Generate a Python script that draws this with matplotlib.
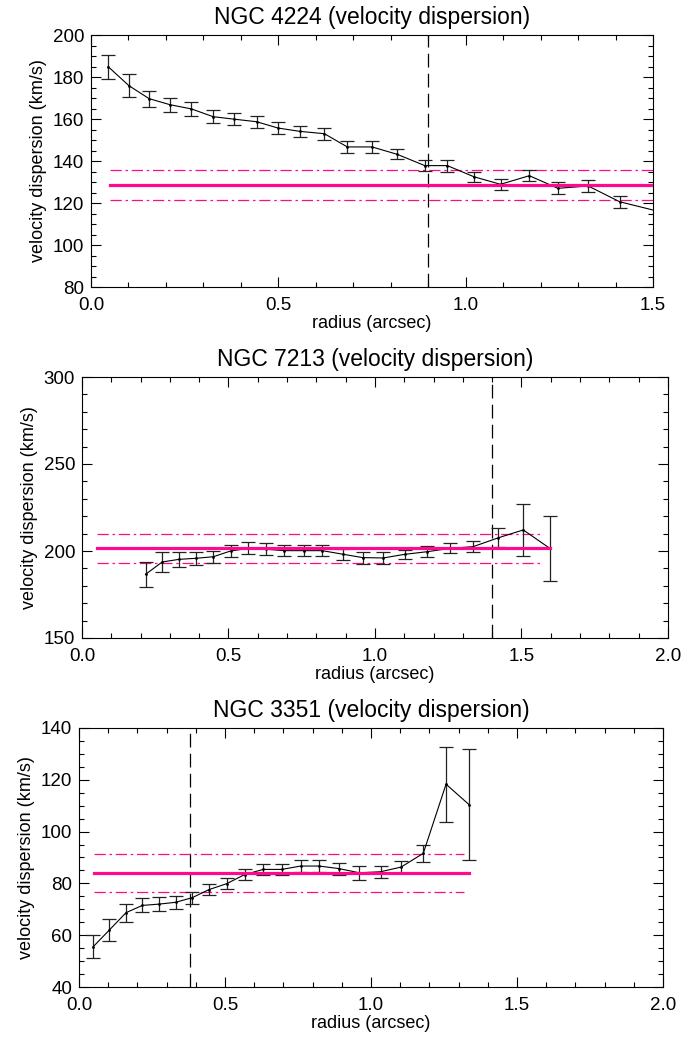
import matplotlib
matplotlib.use("Agg")
import matplotlib.pyplot as plt
from matplotlib.ticker import MultipleLocator

plt.rcParams['font.family'] = ['Liberation Sans', 'DejaVu Sans']

PINK = '#ff0a8c'

# NGC 4224
r_4224 = [0.046, 0.101, 0.155, 0.211, 0.268, 0.326, 0.383, 0.442, 0.499, 0.558,
          0.623, 0.684, 0.750, 0.817, 0.891, 0.951, 1.022, 1.093, 1.170, 1.246,
          1.327, 1.411, 1.560]
s_4224 = [184.9, 175.9, 169.7, 166.8, 164.8, 161.1, 159.9, 158.7, 155.7, 154.1,
          153.0, 146.7, 146.7, 143.2, 137.8, 137.8, 132.5, 128.9, 133.0, 127.0,
          128.1, 120.6, 114.0]
e_4224 = [5.8, 5.3, 3.8, 3.3, 3.2, 3.0, 2.9, 2.9, 2.8, 2.6,
          2.9, 2.9, 2.9, 2.4, 2.5, 2.8, 2.4, 2.6, 2.7, 2.8,
          2.8, 2.8, 2.8]
mean_4224, sig_4224 = 128.6, 7.0
rcut_4224 = 0.9

# NGC 7213
r_7213 = [0.217, 0.274, 0.331, 0.388, 0.448, 0.507, 0.568, 0.628, 0.690, 0.757,
          0.820, 0.892, 0.958, 1.028, 1.102, 1.178, 1.256, 1.335, 1.421, 1.506,
          1.597]
s_7213 = [186.6, 193.7, 195.2, 195.8, 196.7, 200.0, 201.5, 201.0, 200.2, 200.2,
          200.2, 198.1, 196.2, 196.0, 198.1, 199.6, 201.5, 202.5, 207.6, 212.1,
          201.5]
e_7213 = [7.1, 5.6, 4.5, 3.6, 3.5, 3.2, 3.5, 3.4, 3.2, 3.2,
          3.2, 3.0, 3.4, 3.4, 2.7, 3.0, 2.9, 3.3, 5.5, 14.7,
          18.5]
mean_7213, sig_7213 = 201.5, 8.2
rcut_7213 = 1.4

# NGC 3351
r_3351 = [0.049, 0.104, 0.161, 0.217, 0.274, 0.331, 0.388, 0.445, 0.506, 0.567,
          0.631, 0.694, 0.759, 0.823, 0.891, 0.960, 1.033, 1.103, 1.179, 1.257,
          1.337]
s_3351 = [55.6, 62.0, 68.7, 71.5, 72.0, 72.7, 74.5, 77.6, 79.9, 83.4,
          85.4, 85.4, 86.7, 86.7, 85.7, 84.1, 84.5, 86.3, 91.6, 118.3,
          110.3]
e_3351 = [4.5, 4.2, 3.5, 2.7, 2.7, 2.5, 2.3, 2.1, 2.1, 2.1,
          2.2, 2.2, 2.2, 2.2, 2.3, 2.6, 2.4, 2.3, 3.2, 14.5,
          21.4]
mean_3351, sig_3351 = 84.0, 7.2
rcut_3351 = 0.38

W, H = 683, 1037
fig = plt.figure(figsize=(W / 100, H / 100), dpi=100)


def make_axes(l, r, t, b):
    return fig.add_axes([l / W, 1 - b / H, (r - l) / W, (b - t) / H])


# title, data, mean band, cut radius, axes box (px), xlim, ylim, y ticks, band end
panels = [
    ("NGC 4224 (velocity dispersion)", r_4224, s_4224, e_4224, mean_4224, sig_4224, rcut_4224,
     (91, 653, 35, 287), (0, 1.5), (80, 200), 20, 5, 1.6, 1.6),
    ("NGC 7213 (velocity dispersion)", r_7213, s_7213, e_7213, mean_7213, sig_7213, rcut_7213,
     (82, 668, 377, 638), (0, 2.0), (150, 300), 50, 10, 1.597, 1.57),
    ("NGC 3351 (velocity dispersion)", r_3351, s_3351, e_3351, mean_3351, sig_3351, rcut_3351,
     (79, 663, 728, 987), (0, 2.0), (40, 140), 20, 5, 1.337, 1.32),
]

for title, r, s, e, m, sg, rc, box, xl, yl, ymaj, ymin, send, dend in panels:
    ax = make_axes(*box)
    ax.errorbar(r, s, yerr=e, color='k', lw=0.8, marker='.', ms=2,
                ecolor='#222222', elinewidth=0.9, capsize=4.8, capthick=0.9, zorder=3)
    ax.plot([0.05, send], [m, m], color=PINK, lw=2.3, zorder=4)
    for yy in (m + sg, m - sg):
        ax.plot([0.05, dend], [yy, yy], color=PINK, lw=0.9,
                dashes=(9, 3, 2, 3), zorder=2)
    ax.axvline(rc, color='k', lw=0.9, dashes=(11, 5), zorder=1)
    ax.set_xlim(*xl)
    ax.set_ylim(*yl)
    ax.xaxis.set_major_locator(MultipleLocator(0.5))
    ax.xaxis.set_minor_locator(MultipleLocator(0.1))
    ax.yaxis.set_major_locator(MultipleLocator(ymaj))
    ax.yaxis.set_minor_locator(MultipleLocator(ymin))
    ax.xaxis.set_major_formatter(plt.FormatStrFormatter('%.1f'))
    ax.tick_params(which='both', direction='in', top=True, right=True,
                   labelsize=13.5, width=0.8)
    ax.tick_params(which='major', length=7)
    ax.tick_params(which='minor', length=3.5)
    ax.tick_params(axis='x', which='major', pad=7)
    ax.tick_params(axis='y', which='major', pad=5)
    ax.set_title(title, fontsize=16.5, pad=8)
    ax.set_xlabel("radius (arcsec)", fontsize=13, labelpad=1)
    ax.set_ylabel("velocity dispersion (km/s)", fontsize=13, labelpad=4)
    for sp in ax.spines.values():
        sp.set_linewidth(0.8)

fig.savefig("out.png", dpi=100)
